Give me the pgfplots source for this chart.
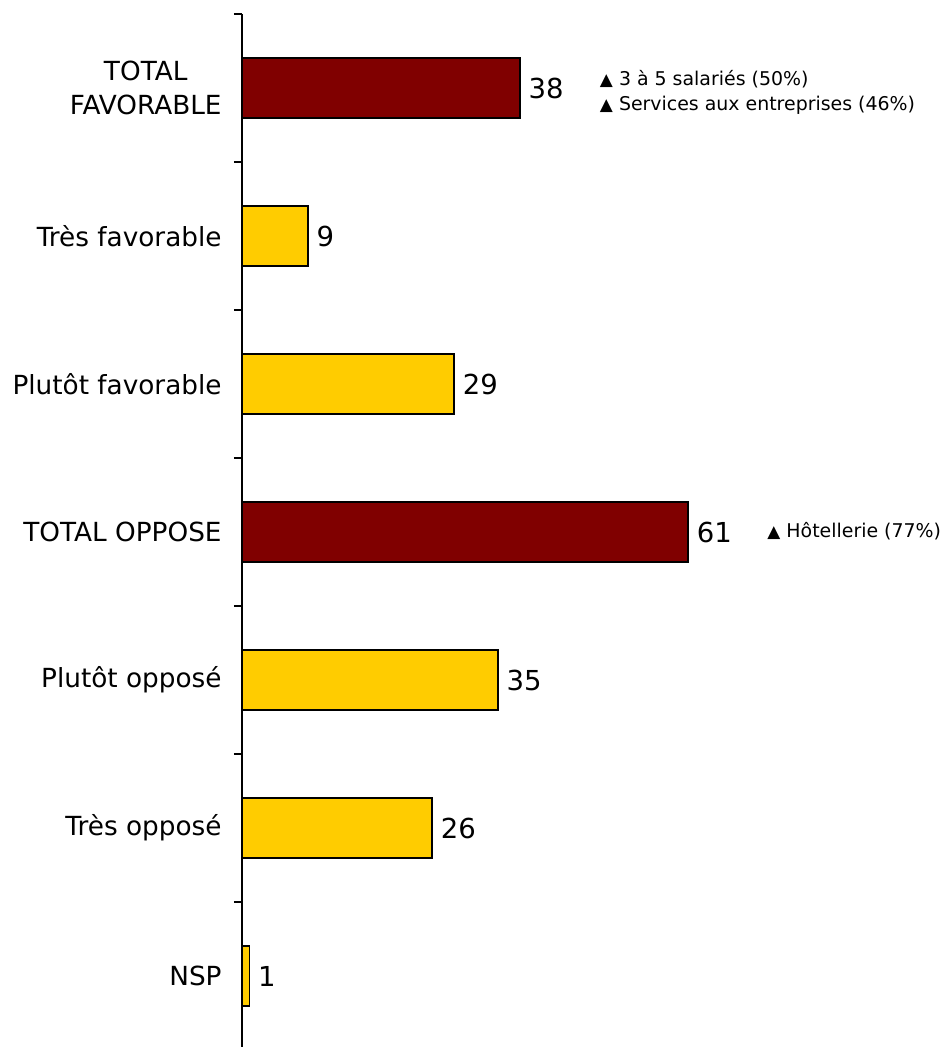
\documentclass[border=0pt]{standalone}
\usepackage{pgfplots}
\pgfplotsset{compat=1.18}
\usepackage{fontspec}
\setmainfont{DejaVu Sans}
\definecolor{darkred}{HTML}{800000}
\definecolor{gold}{HTML}{FFCC00}
\newcommand{\tri}{{\fontsize{8.5}{13}\selectfont ▲}}
\begin{document}
\begin{tikzpicture}
\begin{axis}[
  at={(0,0)}, anchor=south west,
  scale only axis, width=292.5bp, height=518bp,
  xmin=0, xmax=80, ymin=0, ymax=7,
  clip=false,
  /pgf/number format/assume math mode=true,
  axis x line=none, axis y line*=left,
  axis line style={black, line width=0.75bp},
  xbar, bar width=30bp, bar shift=0pt,
  ytick={0,1,2,3,4,5,6,7}, yticklabels={},
  tick align=outside, major tick length=4bp,
  ytick style={line width=0.75bp, black},
  extra y ticks={0.5,1.5,2.5,3.5,4.5,5.5,6.5},
  extra y tick labels={NSP, Très opposé, Plutôt opposé, TOTAL OPPOSE, Plutôt favorable, Très favorable, {TOTAL\\FAVORABLE}},
  extra y tick style={major tick length=0pt, tick label style={align=center, inner sep=0pt, xshift=-10bp, font=\fontsize{13.2}{17}\selectfont}},
  nodes near coords,
  point meta=x,
  nodes near coords style={font=\fontsize{13.8}{16}\selectfont, anchor=west, inner sep=0pt, xshift=4bp, text=black},
]
\addplot[fill=gold, draw=black, line width=0.75bp] coordinates {(1,0.5) (26,1.5) (35,2.5) (29,4.5) (9,5.5)};
\addplot[fill=darkred, draw=black, line width=0.75bp] coordinates {(61,3.5) (38,6.5)};
\node[anchor=west, align=left, inner sep=0pt, font=\fontsize{9.5}{13}\selectfont] at (axis cs:48.9,6.47) {\tri\ 3 à 5 salariés (50\%)\\\tri\ Services aux entreprises (46\%)};
\node[anchor=west, align=left, inner sep=0pt, font=\fontsize{9.5}{13}\selectfont] at (axis cs:71.8,3.505) {\tri\ Hôtellerie (77\%)};
\end{axis}
\pgfresetboundingbox
\useasboundingbox (-121bp,1.5bp) rectangle (353bp,525bp);
\end{tikzpicture}
\end{document}
